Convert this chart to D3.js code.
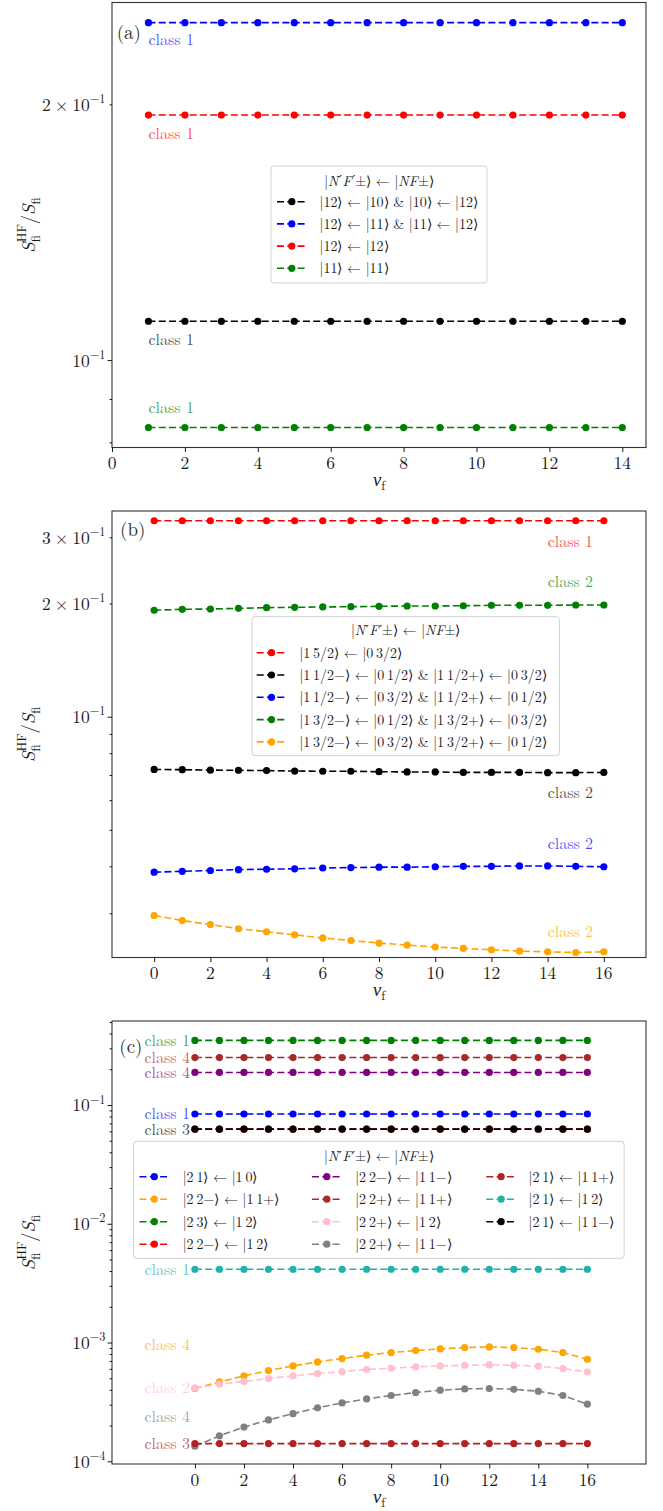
<!DOCTYPE html>
<html>
<head>
<meta charset="utf-8">
<script src="https://cdn.jsdelivr.net/npm/d3@7"></script>
<style>
  body { margin: 0; background: #fff; }
  svg { display: block; }
</style>
</head>
<body>
<script>
// ---------------- panel (a) data ----------------
const nuA = [1, 2, 3, 4, 5, 6, 7, 8, 9, 10, 11, 12, 13, 14];
const a_12_10 = [0.1111, 0.1111, 0.1111, 0.1111, 0.1111, 0.1111, 0.1111, 0.1111, 0.1111, 0.1111, 0.1111, 0.1111, 0.1111, 0.1111];
const a_12_11 = [0.2496, 0.2496, 0.2496, 0.2496, 0.2496, 0.2496, 0.2496, 0.2496, 0.2496, 0.2496, 0.2496, 0.2496, 0.2496, 0.2496];
const a_12_12 = [0.1943, 0.1943, 0.1943, 0.1943, 0.1943, 0.1943, 0.1943, 0.1943, 0.1943, 0.1943, 0.1943, 0.1943, 0.1943, 0.1943];
const a_11_11 = [0.0833, 0.0833, 0.0833, 0.0833, 0.0833, 0.0833, 0.0833, 0.0833, 0.0833, 0.0833, 0.0833, 0.0833, 0.0833, 0.0833];
const xTicksA = [0, 2, 4, 6, 8, 10, 12, 14];

// ---------------- panel (b) data ----------------
const nuB = [0, 1, 2, 3, 4, 5, 6, 7, 8, 9, 10, 11, 12, 13, 14, 15, 16];
const b_15_03 = [0.332, 0.332, 0.332, 0.332, 0.332, 0.332, 0.332, 0.332, 0.332, 0.332, 0.332, 0.332, 0.332, 0.332, 0.332, 0.332, 0.332];
const b_11_01 = [0.0724, 0.0723, 0.0721, 0.0720, 0.0719, 0.0717, 0.0716, 0.0716, 0.0714, 0.0713, 0.0713, 0.0711, 0.0711, 0.0711, 0.0710, 0.0710, 0.0711];
const b_11_03 = [0.0386, 0.0388, 0.0390, 0.0392, 0.0393, 0.0394, 0.0396, 0.0397, 0.0398, 0.0398, 0.0399, 0.0400, 0.0400, 0.0401, 0.0401, 0.0400, 0.0399];
const b_13_01 = [0.1919, 0.1930, 0.1934, 0.1942, 0.1950, 0.1954, 0.1958, 0.1961, 0.1966, 0.1970, 0.1970, 0.1973, 0.1978, 0.1978, 0.1978, 0.1982, 0.1982];
const b_13_03 = [0.0296, 0.0287, 0.0280, 0.0273, 0.0268, 0.0263, 0.0258, 0.0254, 0.0250, 0.0247, 0.0244, 0.0242, 0.0240, 0.0238, 0.0237, 0.0236, 0.0237];
const xTicksB = [0, 2, 4, 6, 8, 10, 12, 14, 16];

// ---------------- panel (c) data ----------------
const nuC = [0, 1, 2, 3, 4, 5, 6, 7, 8, 9, 10, 11, 12, 13, 14, 15, 16];
const c_21_10 = [0.084, 0.084, 0.084, 0.084, 0.084, 0.084, 0.084, 0.084, 0.084, 0.084, 0.084, 0.084, 0.084, 0.084, 0.084, 0.084, 0.084];
const c_22m_11p = [4.10e-4, 4.66e-4, 5.24e-4, 5.81e-4, 6.36e-4, 6.87e-4, 7.33e-4, 7.82e-4, 8.24e-4, 8.56e-4, 8.84e-4, 9.08e-4, 9.18e-4, 9.08e-4, 8.78e-4, 8.24e-4, 7.23e-4];
const c_23_12 = [0.35, 0.35, 0.35, 0.35, 0.35, 0.35, 0.35, 0.35, 0.35, 0.35, 0.35, 0.35, 0.35, 0.35, 0.35, 0.35, 0.35];
const c_22m_12 = [0.0626, 0.0626, 0.0626, 0.0626, 0.0626, 0.0626, 0.0626, 0.0626, 0.0626, 0.0626, 0.0626, 0.0626, 0.0626, 0.0626, 0.0626, 0.0626, 0.0626];
const c_22m_11m = [0.188, 0.188, 0.188, 0.188, 0.188, 0.188, 0.188, 0.188, 0.188, 0.188, 0.188, 0.188, 0.188, 0.188, 0.188, 0.188, 0.188];
const c_22p_11p = [0.251, 0.251, 0.251, 0.251, 0.251, 0.251, 0.251, 0.251, 0.251, 0.251, 0.251, 0.251, 0.251, 0.251, 0.251, 0.251, 0.251];
const c_22p_12 = [4.15e-4, 4.46e-4, 4.70e-4, 4.98e-4, 5.24e-4, 5.48e-4, 5.70e-4, 5.93e-4, 6.07e-4, 6.23e-4, 6.36e-4, 6.44e-4, 6.48e-4, 6.44e-4, 6.32e-4, 6.04e-4, 5.65e-4];
const c_22p_11m = [1.34e-4, 1.64e-4, 1.94e-4, 2.23e-4, 2.52e-4, 2.82e-4, 3.10e-4, 3.35e-4, 3.58e-4, 3.79e-4, 3.97e-4, 4.07e-4, 4.10e-4, 4.04e-4, 3.89e-4, 3.58e-4, 3.03e-4];
const c_21_11p = [1.41e-4, 1.41e-4, 1.41e-4, 1.41e-4, 1.41e-4, 1.41e-4, 1.41e-4, 1.41e-4, 1.41e-4, 1.41e-4, 1.41e-4, 1.41e-4, 1.41e-4, 1.41e-4, 1.41e-4, 1.41e-4, 1.41e-4];
const c_21_12 = [0.00414, 0.00414, 0.00414, 0.00414, 0.00414, 0.00414, 0.00414, 0.00414, 0.00414, 0.00414, 0.00414, 0.00414, 0.00414, 0.00414, 0.00414, 0.00414, 0.00414];
const c_21_11m = [0.0626, 0.0626, 0.0626, 0.0626, 0.0626, 0.0626, 0.0626, 0.0626, 0.0626, 0.0626, 0.0626, 0.0626, 0.0626, 0.0626, 0.0626, 0.0626, 0.0626];
const xTicksC = [0, 2, 4, 6, 8, 10, 12, 14, 16];

// ---------------- drawing ----------------
const TS = "\u2009";   // thin space inside kets
const KET = "\u27E9";
const ARROW = "\u2190";

const svg = d3.select("body").append("svg")
  .attr("width", 663).attr("height", 1511)
  .style("font-family", "'Latin Modern Roman', 'Liberation Serif', serif");

const AX_L = 112, AX_R = 646;

// math-like text made of separate pieces laid out left to right.
// piece: {t, it: italic, sc: size factor, sh: baseline shift (em, up), back: stack under previous piece, fam, dx}
function rich(parent, parts, size, anchor, fill) {
  const g = parent.append("g");
  const inner = g.append("g");
  let cursor = 0, prevStart = 0, prevEnd = 0;
  parts.forEach(p => {
    const start = (p.back ? prevStart : cursor) + (p.dx || 0);
    const t = inner.append("text")
      .attr("x", start).attr("y", -(p.sh || 0) * size)
      .attr("font-size", (p.sc || 1) * size)
      .attr("fill", fill || "#1a1a1a")
      .text(p.t);
    if (p.it) t.attr("font-style", "italic");
    if (p.fam) t.style("font-family", p.fam);
    const w = t.node().getComputedTextLength();
    const end = start + w;
    if (p.back) { cursor = Math.max(prevEnd, end); }
    else { cursor = end; prevStart = start; prevEnd = end; }
  });
  const shift = anchor === "end" ? -cursor : anchor === "middle" ? -cursor / 2 : 0;
  inner.attr("transform", `translate(${shift},0)`);
  return g;
}

function powLabel(v) {
  const e = Math.floor(Math.log10(v) + 1e-9);
  const m = Math.round(v / Math.pow(10, e));
  const sup = {t: "\u2212" + Math.abs(e), sc: 0.7, sh: 0.45};
  return m === 1 ? [{t: "10"}, sup]
                 : [{t: String(m)}, {t: "\u00D7", dx: 4}, {t: "10", dx: 4}, sup];
}

const PRIME = {t: "\u2032", fam: "'DejaVu Serif'", sc: 0.95, sh: 0.02, dx: 0.5};
const titleParts = [
  {t: "|"}, {t: "N", it: 1}, PRIME, {t: "F", it: 1, dx: 0.5}, PRIME, {t: "\u00B1" + KET + " " + ARROW + " |"},
  {t: "N", it: 1}, {t: "F", it: 1}, {t: "\u00B1" + KET}
];

const FS_TICK = 17.5, FS_CLASS = 16, FS_LEG = 14;

function drawPanel(cfg) {
  const g = svg.append("g");
  const x = d3.scaleLinear().domain(cfg.xDomain).range([AX_L, AX_R]);
  const y = d3.scaleLog().domain(cfg.yDomain).range([cfg.bottom, cfg.top]);

  const clipId = "clip" + cfg.tag;
  svg.append("clipPath").attr("id", clipId).append("rect")
    .attr("x", AX_L).attr("y", cfg.top).attr("width", AX_R - AX_L).attr("height", cfg.bottom - cfg.top);

  const plot = g.append("g").attr("clip-path", `url(#${clipId})`);
  const line = d3.line().x(d => x(d[0])).y(d => y(d[1]));

  cfg.series.forEach(s => {
    const pts = cfg.nu.map((n, i) => [n, s.values[i]]);
    plot.append("path").datum(pts).attr("d", line)
      .attr("fill", "none").attr("stroke", s.color)
      .attr("stroke-width", 1.6).attr("stroke-dasharray", "7,3.3");
    plot.selectAll(null).data(pts).join("circle")
      .attr("cx", d => x(d[0])).attr("cy", d => y(d[1]))
      .attr("r", 3.6).attr("fill", s.color);
  });

  // class annotations
  cfg.series.forEach(s => {
    if (!s.cls) return;
    g.append("text")
      .attr("x", x(cfg.labelX)).attr("y", y(s.labelAt) + 5.4)
      .attr("text-anchor", cfg.labelAnchor)
      .attr("font-size", FS_CLASS).attr("fill", s.color).attr("fill-opacity", 0.72)
      .text(s.cls);
  });

  // frame
  g.append("rect").attr("x", AX_L).attr("y", cfg.top)
    .attr("width", AX_R - AX_L).attr("height", cfg.bottom - cfg.top)
    .attr("fill", "none").attr("stroke", "#333").attr("stroke-width", 1.1);

  // x axis
  const xa = g.append("g").attr("transform", `translate(0,${cfg.bottom})`)
    .call(d3.axisBottom(x).tickValues(cfg.xTicks).tickSize(4.5).tickFormat(""));
  xa.select(".domain").remove();
  cfg.xTicks.forEach(v => {
    g.append("text").attr("x", x(v)).attr("y", cfg.bottom + 21.5)
      .attr("text-anchor", "middle").attr("font-size", FS_TICK).attr("fill", "#1a1a1a")
      .text(v);
  });

  // y axis: decades and in-between ticks
  const [y0, y1] = cfg.yDomain;
  const majors = [], minors = [];
  for (let e = Math.floor(Math.log10(y0)); e <= Math.ceil(Math.log10(y1)); e++) {
    for (let m = 1; m <= 9; m++) {
      const v = m * Math.pow(10, e);
      if (v < y0 || v > y1) continue;
      (m === 1 ? majors : minors).push(v);
    }
  }
  const ya = g.append("g").attr("transform", `translate(${AX_L},0)`)
    .call(d3.axisLeft(y).tickValues(majors).tickSize(4.5).tickFormat(""));
  ya.select(".domain").remove();
  const ym = g.append("g").attr("transform", `translate(${AX_L},0)`)
    .call(d3.axisLeft(y).tickValues(minors).tickSize(2.5).tickFormat(""));
  ym.select(".domain").remove();
  g.selectAll(".tick line").attr("stroke", "#000").attr("stroke-width", 0.9);

  majors.concat(cfg.minorLabels).forEach(v => {
    rich(g, powLabel(v), FS_TICK, "end")
      .attr("transform", `translate(${AX_L - 6.5},${y(v) + 6.5})`);
  });

  // axis titles
  rich(g, [{t: "\u03BD", it: 1}, {t: "f", sc: 0.7, sh: -0.22}], 18.5, "middle")
    .attr("transform", `translate(${(AX_L + AX_R) / 2},${cfg.bottom + 38.5})`);

  const cy = (cfg.top + cfg.bottom) / 2;
  rich(g, [
    {t: "S", it: 1}, {t: "HF", sc: 0.7, sh: 0.48}, {t: "fi", sc: 0.7, sh: -0.28, back: 1},
    {t: "/"}, {t: "S", it: 1}, {t: "fi", sc: 0.7, sh: -0.28}
  ], 18.5, "middle").attr("transform", `translate(35,${cy}) rotate(-90)`);

  // panel letter
  g.append("text").attr("x", AX_L + cfg.letterDx).attr("y", cfg.top + cfg.letterDy)
    .attr("font-size", 19).attr("fill", "#333").text(cfg.letter);

  // legend
  const L = cfg.legend;
  const lg = g.append("g");
  lg.append("rect").attr("x", L.x).attr("y", L.y).attr("width", L.w).attr("height", L.h)
    .attr("rx", 3).attr("fill", "#fff").attr("fill-opacity", 0.8)
    .attr("stroke", "#d0d0d0").attr("stroke-width", 1);
  rich(lg, titleParts, FS_LEG, "middle")
    .attr("transform", `translate(${L.x + L.w / 2},${L.titleY + 5})`);
  cfg.series.forEach((s, i) => {
    const col = Math.floor(i / L.rows), row = i % L.rows;
    const c = L.cols[col];
    const ry = L.row0 + row * L.rowDy;
    lg.append("line").attr("x1", c.hx).attr("x2", c.hx + 29.6).attr("y1", ry).attr("y2", ry)
      .attr("stroke", s.color).attr("stroke-width", 1.6).attr("stroke-dasharray", "7,3.3");
    lg.append("circle").attr("cx", c.hx + 14.8).attr("cy", ry).attr("r", 3.6).attr("fill", s.color);
    lg.append("text").attr("x", c.tx).attr("y", ry + 5).attr("font-size", FS_LEG).attr("fill", "#1a1a1a")
      .text(s.name);
  });
}

const k = (a, b) => "|" + a + KET + " " + ARROW + " |" + b + KET;
const kk = (a, b) => "|" + a.split(" ").join(TS) + KET + " " + ARROW + " |" + b.split(" ").join(TS) + KET;

// (a)
drawPanel({
  tag: "a", letter: "(a)", letterDx: 4.7, letterDy: 36.5,
  top: 2.5, bottom: 447.5,
  xDomain: [0, 14.65], yDomain: [0.0789, 0.2636],
  nu: nuA, xTicks: xTicksA, minorLabels: [0.2],
  labelX: 1, labelAnchor: "start",
  series: [
    {values: a_12_10, color: "#000000", name: k("12", "10") + " & " + k("10", "12"), cls: "class 1", labelAt: a_12_10[0] * 0.951},
    {values: a_12_11, color: "#0000ff", name: k("12", "11") + " & " + k("11", "12"), cls: "class 1", labelAt: a_12_11[0] * 0.954},
    {values: a_12_12, color: "#ff0000", name: k("12", "12"), cls: "class 1", labelAt: a_12_12[0] * 0.952},
    {values: a_11_11, color: "#008000", name: k("11", "11"), cls: "class 1", labelAt: a_11_11[0] * 1.055}
  ],
  legend: {x: 271, y: 166, w: 216, h: 117, titleY: 180.7, row0: 201.7, rowDy: 22.2, rows: 4,
           cols: [{hx: 277, tx: 319.5}]}
});

// (b)
drawPanel({
  tag: "b", letter: "(b)", letterDx: 8, letterDy: 24.7,
  top: 511, bottom: 957.5,
  xDomain: [-1.5, 17.5], yDomain: [0.02289, 0.3524],
  nu: nuB, xTicks: xTicksB, minorLabels: [0.2, 0.3],
  labelX: 14, labelAnchor: "start",
  series: [
    {values: b_15_03, color: "#ff0000", name: kk("1 5/2", "0 3/2"), cls: "class 1", labelAt: b_15_03[14] * 0.88},
    {values: b_11_01, color: "#000000", name: kk("1 1/2\u2212", "0 1/2") + " & " + kk("1 1/2+", "0 3/2"), cls: "class 2", labelAt: b_11_01[14] * 0.883},
    {values: b_11_03, color: "#0000ff", name: kk("1 1/2\u2212", "0 3/2") + " & " + kk("1 1/2+", "0 1/2"), cls: "class 2", labelAt: b_11_03[14] * 1.145},
    {values: b_13_01, color: "#008000", name: kk("1 3/2\u2212", "0 1/2") + " & " + kk("1 3/2+", "0 3/2"), cls: "class 2", labelAt: b_13_01[14] * 1.156},
    {values: b_13_03, color: "#ffa500", name: kk("1 3/2\u2212", "0 3/2") + " & " + kk("1 3/2+", "0 1/2"), cls: "class 2", labelAt: b_13_03[14] * 1.13}
  ],
  legend: {x: 252, y: 616.7, w: 307.4, h: 139, titleY: 630, row0: 652.7, rowDy: 22.3, rows: 5,
           cols: [{hx: 256.7, tx: 299.4}]}
});

// (c)
drawPanel({
  tag: "c", letter: "(c)", letterDx: 7.3, letterDy: 32,
  top: 1021, bottom: 1464,
  xDomain: [-3.38, 18.39], yDomain: [9.49e-5, 0.5096],
  nu: nuC, xTicks: xTicksC, minorLabels: [],
  labelX: -0.2, labelAnchor: "end",
  series: [
    {values: c_21_10, color: "#0000ff", name: kk("2 1", "1 0"), cls: "class 1", labelAt: c_21_10[0]},
    {values: c_22m_11p, color: "#ffa500", name: kk("2 2\u2212", "1 1+"), cls: "class 4", labelAt: 9.62e-4},
    {values: c_23_12, color: "#008000", name: kk("2 3", "1 2"), cls: "class 1", labelAt: c_23_12[0]},
    {values: c_22m_12, color: "#ff0000", name: kk("2 2\u2212", "1 2")},
    {values: c_22m_11m, color: "#800080", name: kk("2 2\u2212", "1 1\u2212"), cls: "class 4", labelAt: c_22m_11m[0]},
    {values: c_22p_11p, color: "#a52a2a", name: kk("2 2+", "1 1+"), cls: "class 4", labelAt: c_22p_11p[0]},
    {values: c_22p_12, color: "#ffc0cb", name: kk("2 2+", "1 2"), cls: "class 2", labelAt: c_22p_12[0]},
    {values: c_22p_11m, color: "#808080", name: kk("2 2+", "1 1\u2212"), cls: "class 4", labelAt: 2.37e-4},
    {values: c_21_11p, color: "#b22222", name: kk("2 1", "1 1+"), cls: "class 3", labelAt: c_21_11p[0]},
    {values: c_21_12, color: "#20b2aa", name: kk("2 1", "1 2"), cls: "class 1", labelAt: c_21_12[0]},
    {values: c_21_11m, color: "#000000", name: kk("2 1", "1 1\u2212"), cls: "class 3", labelAt: c_21_11m[0]}
  ],
  legend: {x: 133.6, y: 1141.3, w: 490.5, h: 117, titleY: 1156, row0: 1176.7, rowDy: 22.5, rows: 4,
           cols: [{hx: 139.5, tx: 182.7}, {hx: 312, tx: 355.2}, {hx: 486.3, tx: 528.5}]}
});
</script>
</body>
</html>
